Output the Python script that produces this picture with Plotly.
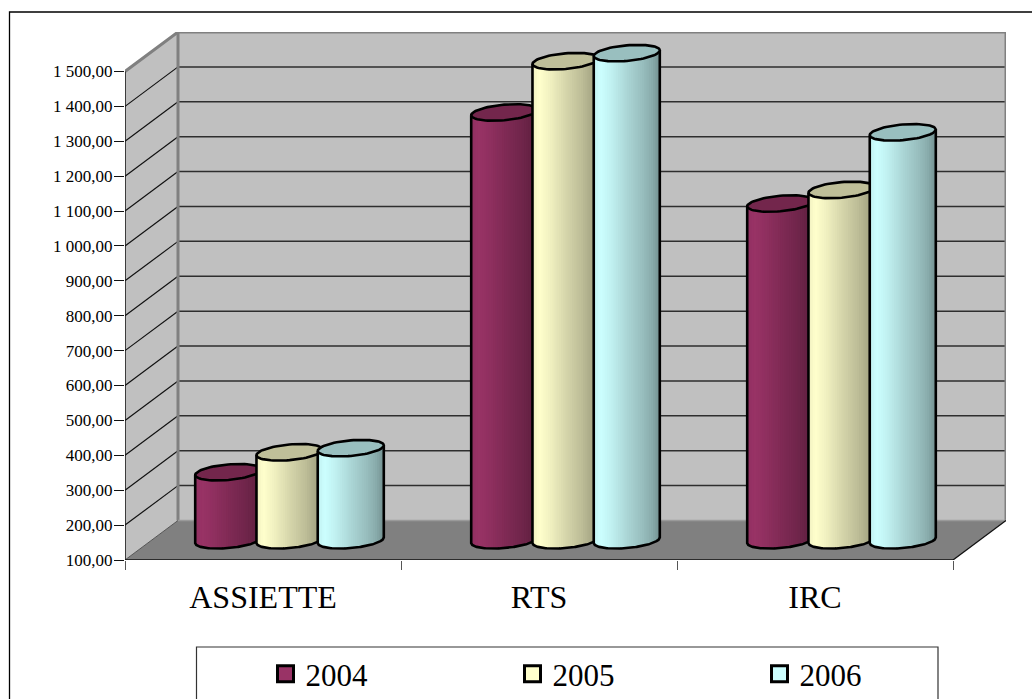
import math
import plotly.graph_objects as go

# ---- data ----
categories = ["ASSIETTE", "RTS", "IRC"]
years = ["2004", "2005", "2006"]
values_2004 = [295, 1326, 1065]
values_2005 = [352, 1473, 1104]
values_2006 = [364, 1496, 1269]
y_ticks = list(range(100, 1600, 100))
y_tick_labels = ["100,00", "200,00", "300,00", "400,00", "500,00", "600,00", "700,00", "800,00",
                 "900,00", "1 000,00", "1 100,00", "1 200,00", "1 300,00", "1 400,00", "1 500,00"]

# ---- styles ----
FONT = "Liberation Serif"
base_colors = [(0x99, 0x33, 0x66), (0xFF, 0xFF, 0xCC), (0xCC, 0xFF, 0xFF)]
WALL, FLOOR = "#C0C0C0", "#808080"
W, H = 1032, 699
L, R_, T, B = 125, 1006, 32, 560       # plot area in pixels
PX_X = 276.0                            # pixels per category
PX_Y = 0.349                            # pixels per value unit
DX = 53 / PX_X                          # depth vector in axis units
DY = 39.5 / PX_Y
SPACING = 0.222                         # cylinder centre spacing, category units
A = 31.1 / PX_X                         # ellipse horizontal radius
F = 0.21                                # ellipse depth radius as a share of the depth
N = 30
X_MAX = 3 + DX
Y_MIN, Y_MAX = 100, 1500 + DY

fig = go.Figure()


def line(xs, ys, color, width):
    fig.add_trace(go.Scatter(x=xs, y=ys, mode="lines", line=dict(color=color, width=width),
                             hoverinfo="skip", showlegend=False, cliponaxis=False))


def poly(xs, ys, color, edge=None, width=0):
    fig.add_trace(go.Scatter(x=xs, y=ys, mode="lines", fill="toself", fillcolor=color,
                             line=dict(color=edge or color, width=width),
                             hoverinfo="skip", showlegend=False, cliponaxis=False))


# walls and floor
poly([0, DX, DX, 0, 0], [100, 100 + DY, 1500 + DY, 1500, 100], WALL)
poly([DX, X_MAX, X_MAX, DX, DX], [100 + DY, 100 + DY, 1500 + DY, 1500 + DY, 100 + DY], WALL)
poly([0, 3, X_MAX, DX, 0], [100, 100, 100 + DY, 100 + DY, 100], FLOOR)

# grid lines over side and back wall
for v in y_ticks[1:-1]:
    line([0, DX], [v, v + DY], "#111111", 1.2)
    line([DX, X_MAX], [v + DY, v + DY], "#2e2e2e", 1.5)

# wall borders
line([0, DX, X_MAX, X_MAX], [1500, 1500 + DY, 1500 + DY, 100 + DY], FLOOR, 3)
line([DX, DX], [100 + DY, 1500 + DY], FLOOR, 3)
line([DX, X_MAX], [100 + DY, 100 + DY], "#9a9a9a", 1.5)
line([0, DX], [100, 100 + DY], "#555555", 1)
line([3, X_MAX], [100, 100 + DY], "#111111", 1.3)
line([0, 0], [100, 1500], "#111111", 1.5)
line([0, 3], [100, 100], "#111111", 1.5)

# shading across a cylinder, left edge to right edge
SHADE_U = [0.0, 0.1, 0.25, 0.5, 0.75, 0.9, 1.0]
SHADE_V = [0.94, 1.0, 0.95, 0.84, 0.74, 0.66, 0.56]


def shade(u):
    for i in range(len(SHADE_U) - 1):
        if u <= SHADE_U[i + 1]:
            t = (u - SHADE_U[i]) / (SHADE_U[i + 1] - SHADE_U[i])
            return SHADE_V[i] + t * (SHADE_V[i + 1] - SHADE_V[i])
    return SHADE_V[-1]


def rgb(c, k):
    return "rgb(%d,%d,%d)" % tuple(round(ch * k) for ch in c)


TH0 = math.atan2(F * DX, A)


def ring(cx, v, th):
    return (cx + A * math.cos(th) + F * DX * math.sin(th), v + F * DY * math.sin(th))


def front_angle(u):
    return TH0 + math.pi + math.acos(1 - 2 * u)


def cylinder(cat, idx, value, color):
    cx = cat + 0.5 + (idx - 1) * SPACING + 0.5 * DX
    v0 = 100 + 0.5 * DY
    v1 = value + 0.5 * DY
    for i in range(N):
        u0, u1 = i / N, min(1, (i + 2) / N)
        arc = [front_angle(u0 + (u1 - u0) * k / 4) for k in range(5)]
        top = [ring(cx, v1, t) for t in arc]
        bot = [ring(cx, v0, t) for t in reversed(arc)]
        pts = top + bot + top[:1]
        poly([p[0] for p in pts], [p[1] for p in pts], rgb(color, shade((i + 0.5) / N)))
    arc = [front_angle(k / 60) for k in range(61)]
    bottom = [ring(cx, v0, t) for t in arc]
    outline = [ring(cx, v1, arc[0])] + bottom + [ring(cx, v1, arc[-1])]
    line([p[0] for p in outline], [p[1] for p in outline], "#000000", 2.6)
    cap = [ring(cx, v1, 2 * math.pi * k / 72) for k in range(73)]
    poly([p[0] for p in cap], [p[1] for p in cap], rgb(color, 0.75), "#000000", 2.6)


series = [values_2004, values_2005, values_2006]
for c in range(len(categories)):
    for s, vals in enumerate(series):
        cylinder(c, s, vals[c], base_colors[s])

# legend entries
for s, name in enumerate(years):
    fig.add_trace(go.Scatter(x=[None], y=[None], mode="markers", name=name,
                             marker=dict(symbol="square", size=16, color=rgb(base_colors[s], 1),
                                         line=dict(color="#000000", width=3))))


def px_x(p):
    return (p - L) / (R_ - L)


def px_y(p):
    return (B - p) / (B - T)


frame = dict(type="rect", xref="paper", yref="paper", layer="below",
             x0=px_x(9.5), x1=px_x(1100), y0=px_y(12), y1=px_y(760),
             line=dict(color="#000000", width=1.3), fillcolor="#FFFFFF")
legend_box = dict(type="rect", xref="paper", yref="paper", layer="below",
                  x0=px_x(196.5), x1=px_x(938), y0=px_y(647), y1=px_y(760),
                  line=dict(color="#333333", width=1.2), fillcolor="#FFFFFF")

fig.update_layout(
    width=W, height=H, autosize=False,
    margin=dict(l=L, r=W - R_, t=T, b=H - B, pad=0),
    paper_bgcolor="#FFFFFF", plot_bgcolor="rgba(0,0,0,0)",
    font=dict(family=FONT, color="#000000"),
    shapes=[frame, legend_box],
    legend=dict(orientation="h", xref="container", yref="container",
                x=265.5 / W, y=1 - 647 / H, xanchor="left", yanchor="top",
                entrywidth=202, entrywidthmode="pixels", itemwidth=30, itemsizing="trace",
                font=dict(size=31, family=FONT), bgcolor="rgba(0,0,0,0)", traceorder="normal",
                itemclick=False, itemdoubleclick=False),
    xaxis=dict(range=[0, X_MAX], tickmode="array", tickvals=[0.5, 1.5, 2.5], ticktext=categories,
               ticks="outside", ticklen=9, tickcolor="rgba(0,0,0,0)", tickfont=dict(size=32, family=FONT),
               minor=dict(tickmode="array", tickvals=[0, 1, 2, 3], ticks="outside", ticklen=9,
                          tickcolor="#555555", tickwidth=1.3, showgrid=False),
               showgrid=False, zeroline=False, showline=False, fixedrange=True),
    yaxis=dict(range=[Y_MIN, Y_MAX], tickmode="array", tickvals=y_ticks, ticktext=y_tick_labels,
               ticks="outside", ticklen=10, tickcolor="#111111", tickwidth=1.3,
               ticklabelstandoff=-2, tickfont=dict(size=17, family=FONT),
               showgrid=False, zeroline=False, showline=False, fixedrange=True),
)

fig.write_html("out.html", config={"displayModeBar": False},
               post_script="document.body.style.margin='0';document.body.style.overflow='hidden';")
